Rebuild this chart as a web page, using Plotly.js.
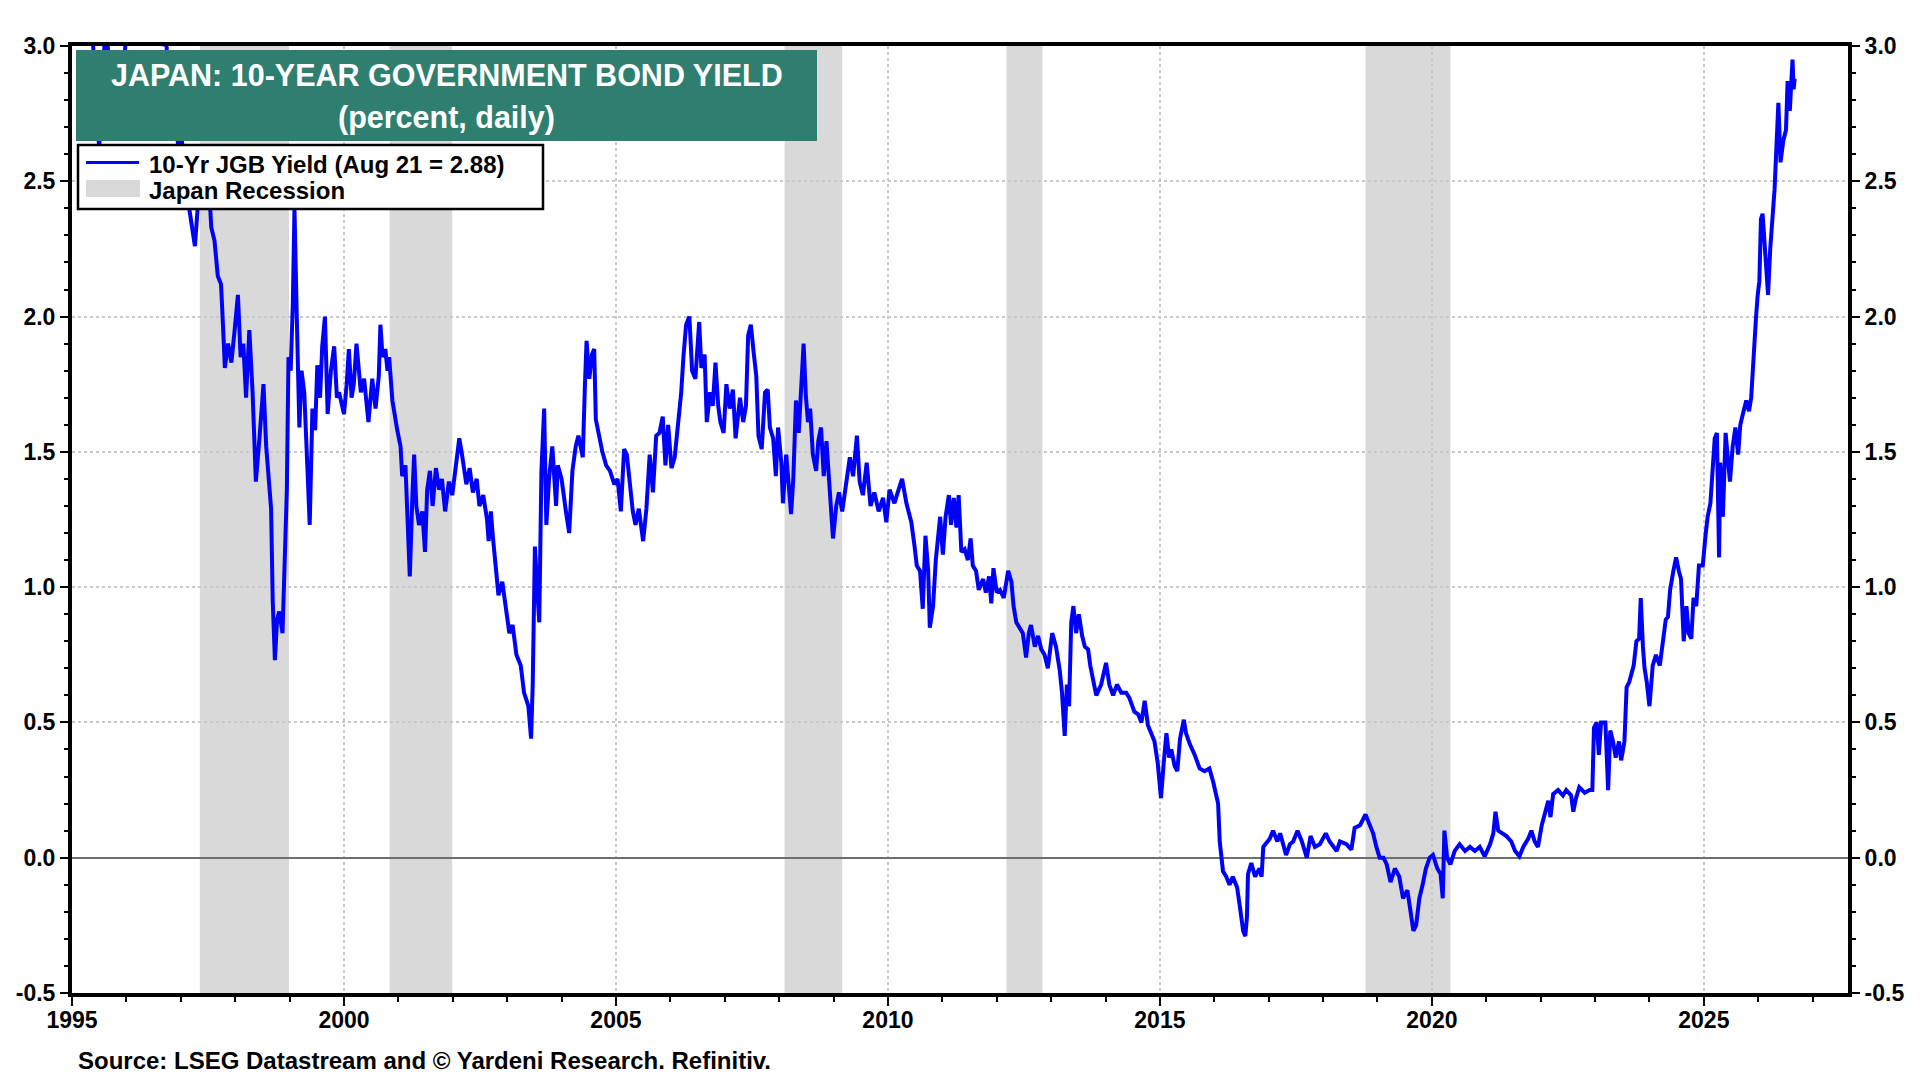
<!DOCTYPE html>
<html>
<head>
<meta charset="utf-8">
<script src="https://cdn.plot.ly/plotly-3.0.1.min.js"></script>
<style>
  html, body { margin: 0; padding: 0; background: #fff; }
  #chart { width: 1920px; height: 1080px; }
</style>
</head>
<body>
<div id="chart"></div>
<script>
// 10-yr JGB yield: decimal year / percent
var t1995 = [1995.00,1995.08,1995.17,1995.25,1995.33,1995.42,1995.50,1995.56,1995.62,1995.70,
             1995.80,1995.90,1996.00,1996.10,1996.25,1996.40,1996.50,1996.60,1996.66,1996.72,
             1996.80,1996.90,1996.96,1997.02,1997.08,1997.14,1997.20,1997.26,1997.31,1997.38,
             1997.44,1997.50,1997.56,1997.62,1997.68,1997.74,1997.78,1997.81,1997.87,1997.93,
             1997.99,1998.05,1998.10,1998.15,1998.20,1998.26,1998.32,1998.38,1998.45,1998.52,
             1998.57,1998.62,1998.66,1998.69,1998.73,1998.77,1998.81,1998.87,1998.90,1998.95,
             1998.98,1999.02,1999.06,1999.09,1999.13,1999.18,1999.22,1999.27,1999.33,1999.37,
             1999.42,1999.47,1999.51,1999.56,1999.60,1999.65,1999.70,1999.76,1999.82,1999.87,
             1999.91];
var y1995 = [4.55,4.60,4.20,3.45,3.20,2.90,2.62,2.85,3.10,2.88,
             2.95,2.80,3.05,3.20,3.30,3.25,3.40,3.20,3.00,3.05,
             2.82,2.72,2.62,2.65,2.52,2.42,2.34,2.26,2.40,2.55,
             2.63,2.55,2.33,2.28,2.15,2.12,1.95,1.81,1.90,1.83,
             1.95,2.08,1.85,1.90,1.70,1.95,1.72,1.39,1.56,1.75,
             1.52,1.40,1.29,0.95,0.73,0.88,0.91,0.83,1.06,1.36,
             1.85,1.80,2.05,2.40,2.02,1.59,1.80,1.72,1.43,1.23,
             1.66,1.58,1.82,1.70,1.89,2.00,1.64,1.80,1.89,1.70,
             1.72];

var t2000 = [2000.00,2000.05,2000.09,2000.14,2000.18,2000.23,2000.27,2000.31,2000.37,2000.41,
             2000.45,2000.52,2000.58,2000.64,2000.67,2000.71,2000.76,2000.80,2000.83,2000.89,
             2000.94,2000.98,2001.04,2001.07,2001.13,2001.18,2001.21,2001.26,2001.29,2001.33,
             2001.38,2001.44,2001.49,2001.53,2001.58,2001.63,2001.69,2001.75,2001.80,2001.86,
             2001.93,2001.99,2002.06,2002.12,2002.17,2002.25,2002.31,2002.37,2002.44,2002.49,
             2002.56,2002.63,2002.66,2002.70,2002.74,2002.78,2002.84,2002.91,2002.98,2003.04,
             2003.10,2003.17,2003.25,2003.31,2003.39,2003.44,2003.47,2003.51,2003.56,2003.59,
             2003.63,2003.68,2003.72,2003.77,2003.83,2003.90,2003.93,2004.00,2004.08,2004.14,
             2004.20,2004.26,2004.31,2004.39,2004.43,2004.46,2004.51,2004.56,2004.60,2004.63,
             2004.69,2004.75,2004.82,2004.89,2004.97];
var y2000 = [1.64,1.75,1.88,1.70,1.75,1.90,1.80,1.72,1.77,1.68,
             1.61,1.77,1.66,1.78,1.97,1.85,1.88,1.80,1.85,1.69,
             1.62,1.58,1.52,1.41,1.45,1.13,1.04,1.35,1.49,1.30,
             1.23,1.28,1.13,1.36,1.43,1.30,1.44,1.36,1.40,1.28,
             1.39,1.34,1.46,1.55,1.49,1.38,1.44,1.35,1.40,1.30,
             1.34,1.25,1.17,1.28,1.18,1.08,0.97,1.02,0.93,0.83,
             0.86,0.75,0.71,0.61,0.56,0.44,0.64,1.15,0.97,0.87,
             1.43,1.66,1.23,1.40,1.52,1.30,1.45,1.40,1.28,1.20,
             1.43,1.52,1.56,1.48,1.75,1.91,1.77,1.86,1.88,1.62,
             1.56,1.50,1.45,1.43,1.38];

var t2005 = [2005.03,2005.09,2005.15,2005.20,2005.25,2005.31,2005.36,2005.42,2005.50,2005.56,
             2005.62,2005.68,2005.74,2005.80,2005.86,2005.91,2005.96,2006.02,2006.08,2006.14,
             2006.20,2006.24,2006.29,2006.35,2006.40,2006.46,2006.53,2006.57,2006.63,2006.67,
             2006.73,2006.78,2006.83,2006.88,2006.92,2006.98,2007.03,2007.09,2007.15,2007.20,
             2007.28,2007.34,2007.39,2007.43,2007.48,2007.53,2007.58,2007.62,2007.68,2007.74,
             2007.79,2007.83,2007.89,2007.94,2007.98,2008.04,2008.07,2008.13,2008.18,2008.22,
             2008.26,2008.31,2008.36,2008.41,2008.45,2008.49,2008.53,2008.57,2008.62,2008.68,
             2008.72,2008.77,2008.82,2008.87,2008.93,2008.99,2009.05,2009.10,2009.16,2009.23,
             2009.30,2009.36,2009.43,2009.48,2009.54,2009.61,2009.68,2009.75,2009.83,2009.91,
             2009.97];
var y2005 = [1.40,1.28,1.51,1.49,1.38,1.28,1.23,1.29,1.17,1.29,
             1.49,1.35,1.56,1.57,1.63,1.45,1.60,1.44,1.48,1.60,
             1.72,1.85,1.97,2.00,1.80,1.77,1.98,1.81,1.86,1.61,
             1.72,1.67,1.83,1.67,1.61,1.57,1.75,1.66,1.73,1.55,
             1.70,1.61,1.67,1.93,1.97,1.87,1.78,1.56,1.51,1.72,
             1.73,1.59,1.55,1.41,1.59,1.46,1.31,1.49,1.35,1.27,
             1.40,1.69,1.57,1.77,1.90,1.71,1.61,1.66,1.49,1.43,
             1.54,1.59,1.41,1.54,1.38,1.18,1.30,1.35,1.28,1.39,
             1.48,1.41,1.56,1.39,1.34,1.46,1.30,1.35,1.28,1.33,
             1.24];

var t2010 = [2010.03,2010.12,2010.18,2010.26,2010.34,2010.43,2010.49,2010.53,2010.59,2010.64,
             2010.69,2010.74,2010.77,2010.83,2010.88,2010.92,2010.96,2011.01,2011.06,2011.12,
             2011.16,2011.21,2011.26,2011.30,2011.35,2011.41,2011.47,2011.52,2011.56,2011.62,
             2011.67,2011.75,2011.80,2011.86,2011.90,2011.94,2012.00,2012.06,2012.13,2012.21,
             2012.27,2012.31,2012.36,2012.42,2012.48,2012.54,2012.59,2012.63,2012.70,2012.76,
             2012.82,2012.88,2012.94,2013.02,2013.09,2013.16,2013.20,2013.25,2013.29,2013.33,
             2013.37,2013.41,2013.46,2013.51,2013.57,2013.62,2013.68,2013.72,2013.77,2013.83,
             2013.92,2014.01,2014.07,2014.14,2014.21,2014.29,2014.38,2014.44,2014.53,2014.60,
             2014.66,2014.72,2014.78,2014.84,2014.90,2014.96];
var y2010 = [1.36,1.31,1.35,1.40,1.31,1.24,1.15,1.08,1.06,0.92,
             1.19,1.06,0.85,0.93,1.10,1.19,1.26,1.12,1.26,1.34,
             1.23,1.33,1.22,1.34,1.13,1.14,1.10,1.18,1.08,1.06,
             0.99,1.03,0.98,1.04,0.94,1.07,0.98,0.99,0.96,1.06,
             1.02,0.93,0.87,0.85,0.83,0.74,0.83,0.86,0.78,0.82,
             0.77,0.75,0.70,0.83,0.78,0.69,0.61,0.45,0.64,0.56,
             0.87,0.93,0.83,0.90,0.82,0.78,0.77,0.71,0.65,0.60,
             0.64,0.72,0.64,0.60,0.64,0.61,0.61,0.59,0.54,0.53,
             0.50,0.58,0.49,0.46,0.43,0.35];

var t2015 = [2015.02,2015.07,2015.12,2015.17,2015.21,2015.27,2015.32,2015.37,2015.44,2015.48,
             2015.55,2015.64,2015.73,2015.82,2015.91,2015.98,2016.03,2016.07,2016.10,2016.13,
             2016.16,2016.22,2016.28,2016.34,2016.42,2016.47,2016.53,2016.57,2016.60,2016.62,
             2016.68,2016.75,2016.83,2016.87,2016.90,2016.96,2017.02,2017.08,2017.16,2017.21,
             2017.27,2017.32,2017.39,2017.45,2017.53,2017.61,2017.70,2017.77,2017.85,2017.94,
             2018.05,2018.12,2018.25,2018.31,2018.43,2018.52,2018.58,2018.68,2018.78,2018.86,
             2018.92,2018.98,2019.04,2019.11,2019.17,2019.24,2019.32,2019.40,2019.47,2019.55,
             2019.61,2019.66,2019.71,2019.77,2019.83,2019.89,2019.96];
var y2015 = [0.22,0.35,0.46,0.37,0.40,0.34,0.32,0.44,0.51,0.46,
             0.42,0.38,0.33,0.32,0.33,0.28,0.23,0.20,0.06,-0.01,
             -0.05,-0.07,-0.10,-0.07,-0.11,-0.18,-0.27,-0.29,-0.22,-0.06,
             -0.02,-0.07,-0.04,-0.07,0.04,0.055,0.07,0.10,0.06,0.09,
             0.04,0.01,0.05,0.06,0.10,0.06,0.00,0.08,0.04,0.05,
             0.09,0.06,0.025,0.06,0.05,0.03,0.11,0.12,0.16,0.12,
             0.09,0.04,0.00,0.00,-0.025,-0.09,-0.04,-0.07,-0.15,-0.12,
             -0.20,-0.27,-0.25,-0.15,-0.10,-0.04,0.00];

var t2020 = [2020.02,2020.10,2020.16,2020.20,2020.23,2020.28,2020.34,2020.42,2020.51,2020.61,
             2020.70,2020.79,2020.88,2020.97,2021.07,2021.13,2021.17,2021.22,2021.30,2021.37,
             2021.46,2021.53,2021.61,2021.68,2021.77,2021.83,2021.89,2021.95,2022.02,2022.08,
             2022.14,2022.18,2022.23,2022.32,2022.41,2022.47,2022.56,2022.60,2022.65,2022.71,
             2022.81,2022.90,2022.95,2022.98,2023.03,2023.07,2023.11,2023.19,2023.22,2023.24,
             2023.28,2023.33,2023.38,2023.44,2023.48,2023.54,2023.58,2023.63,2023.71,2023.76,
             2023.81,2023.84,2023.88,2023.91,2023.95,2024.00,2024.06,2024.12,2024.19,2024.23,
             2024.30,2024.34,2024.38,2024.44,2024.49,2024.54,2024.58,2024.63,2024.68,2024.72,
             2024.77,2024.81,2024.86,2024.91,2024.98,2025.03,2025.07,2025.12,2025.17,2025.20,
             2025.24,2025.28,2025.30,2025.35,2025.40,2025.44,2025.48,2025.53,2025.58,2025.63,
             2025.67,2025.73,2025.78,2025.83,2025.87,2025.90,2025.93,2025.96,2025.99,2026.02,
             2026.05,2026.08,2026.12,2026.15,2026.18,2026.22,2026.27,2026.30,2026.37,2026.41,
             2026.46,2026.51,2026.54,2026.58,2026.63,2026.65,2026.67];
var y2020 = [0.01,-0.04,-0.06,-0.15,0.10,0.00,-0.025,0.025,0.05,0.025,
             0.04,0.025,0.04,0.005,0.05,0.09,0.17,0.10,0.09,0.08,
             0.06,0.025,0.005,0.04,0.07,0.10,0.06,0.04,0.12,0.16,
             0.21,0.15,0.235,0.25,0.23,0.25,0.23,0.17,0.22,0.26,
             0.24,0.25,0.25,0.48,0.50,0.38,0.50,0.50,0.28,0.25,
             0.47,0.43,0.37,0.43,0.36,0.43,0.63,0.65,0.71,0.80,
             0.81,0.96,0.78,0.70,0.65,0.56,0.71,0.75,0.71,0.78,
             0.88,0.89,0.99,1.06,1.11,1.06,1.03,0.80,0.93,0.83,
             0.81,0.96,0.93,1.08,1.08,1.19,1.26,1.31,1.44,1.55,
             1.57,1.11,1.46,1.26,1.57,1.49,1.39,1.52,1.59,1.49,
             1.60,1.65,1.69,1.65,1.70,1.80,1.92,2.00,2.08,2.13,
             2.36,2.38,2.26,2.18,2.08,2.25,2.41,2.47,2.79,2.57,
             2.65,2.69,2.87,2.76,2.95,2.84,2.88];

// Japan recessions (decimal years)
var recessionStart = [1997.35, 2000.84, 2008.10, 2012.18, 2018.78];
var recessionEnd   = [1998.99, 2001.99, 2009.16, 2012.84, 2020.34];

var xTickVals = [1995, 2000, 2005, 2010, 2015, 2020, 2025];
var yTickVals = [-0.5, 0, 0.5, 1, 1.5, 2, 2.5, 3];
var yTickText = ['-0.5', '0.0', '0.5', '1.0', '1.5', '2.0', '2.5', '3.0'];

var seriesName = '10-Yr JGB Yield (Aug 21 = 2.88)';
var recessionName = 'Japan Recession';

var FONT = 'Arial, "Liberation Sans", sans-serif';
var BLUE = '#0000ff';
var GREY = '#d9d9d9';

var years = [].concat(t1995, t2000, t2005, t2010, t2015, t2020);
var yields = [].concat(y1995, y2000, y2005, y2010, y2015, y2020);

// plot area in px: x 72..1848, y 46..993
function px(x) { return (x - 72) / 1776; }
function py(y) { return 1 - (y - 46) / 947; }

var jgb = {
  x: years,
  y: yields,
  type: 'scatter',
  mode: 'lines',
  name: seriesName,
  line: {color: BLUE, width: 4},
  showlegend: false
};

// empty trace, just to carry the right hand axis
var rightAxis = {
  x: [null],
  y: [null],
  yaxis: 'y2',
  type: 'scatter',
  mode: 'lines',
  showlegend: false,
  hoverinfo: 'skip'
};

var shapes = recessionStart.map(function(s, i) {
  return {
    type: 'rect', xref: 'x', yref: 'paper',
    x0: s, x1: recessionEnd[i], y0: 0, y1: 1,
    fillcolor: GREY, line: {width: 0}, layer: 'below'
  };
});

// title box
shapes.push({
  type: 'rect', xref: 'paper', yref: 'paper',
  x0: px(76), x1: px(817), y0: py(141), y1: py(50),
  fillcolor: '#2f7f70', line: {width: 0}, layer: 'above'
});
// legend box and its keys
shapes.push({
  type: 'rect', xref: 'paper', yref: 'paper',
  x0: px(78), x1: px(543), y0: py(209), y1: py(145),
  fillcolor: '#ffffff', line: {color: '#000000', width: 2.5}, layer: 'above'
});
shapes.push({
  type: 'line', xref: 'paper', yref: 'paper',
  x0: px(86), x1: px(139), y0: py(162.5), y1: py(162.5),
  line: {color: BLUE, width: 3}, layer: 'above'
});
shapes.push({
  type: 'rect', xref: 'paper', yref: 'paper',
  x0: px(86), x1: px(140), y0: py(197), y1: py(180),
  fillcolor: GREY, line: {width: 0}, layer: 'above'
});

var tickFont = {family: FONT, size: 23, color: '#000', weight: 700};
var legendFont = {family: FONT, size: 24, color: '#000', weight: 700};

var yAxisBase = {
  range: [-0.5, 3.0],
  tickvals: yTickVals,
  ticktext: yTickText,
  ticks: 'outside',
  ticklen: 8,
  tickwidth: 2,
  tickcolor: '#000',
  tickfont: tickFont,
  showline: true,
  linecolor: '#000',
  linewidth: 4,
  fixedrange: true,
  minor: {dtick: 0.1, ticks: 'outside', ticklen: 4, tickwidth: 2, tickcolor: '#000', showgrid: false}
};

var layout = {
  width: 1920,
  height: 1080,
  margin: {l: 72, r: 72, t: 46, b: 87},
  paper_bgcolor: '#fff',
  plot_bgcolor: '#fff',
  showlegend: false,
  xaxis: {
    range: [1995, 2027.65],
    tickvals: xTickVals,
    ticks: 'outside',
    ticklen: 9,
    tickwidth: 2,
    tickcolor: '#000',
    tickfont: tickFont,
    ticklabelstandoff: -6,
    showline: true,
    mirror: true,
    linecolor: '#000',
    linewidth: 4,
    showgrid: true,
    gridcolor: '#c8c8c8',
    gridwidth: 2,
    griddash: 'dot',
    zeroline: false,
    fixedrange: true,
    minor: {dtick: 1, ticks: 'outside', ticklen: 5, tickwidth: 2, tickcolor: '#000', showgrid: false}
  },
  yaxis: Object.assign({}, yAxisBase, {
    side: 'left',
    showgrid: true,
    gridcolor: '#c8c8c8',
    gridwidth: 2,
    griddash: 'dot',
    zeroline: true,
    zerolinecolor: '#6e6e6e',
    zerolinewidth: 2
  }),
  yaxis2: Object.assign({}, yAxisBase, {
    side: 'right',
    overlaying: 'y',
    showgrid: false,
    zeroline: false
  }),
  shapes: shapes,
  annotations: [
    {
      xref: 'paper', yref: 'paper',
      x: px(446.5), y: py(75),
      xanchor: 'center', yanchor: 'middle',
      text: 'JAPAN: 10-YEAR GOVERNMENT BOND YIELD',
      showarrow: false,
      font: {family: FONT, size: 30.5, color: '#ffffff', weight: 700}
    },
    {
      xref: 'paper', yref: 'paper',
      x: px(446.5), y: py(117),
      xanchor: 'center', yanchor: 'middle',
      text: '(percent, daily)',
      showarrow: false,
      font: {family: FONT, size: 30.5, color: '#ffffff', weight: 700}
    },
    {
      xref: 'paper', yref: 'paper',
      x: px(147), y: py(164),
      xanchor: 'left', yanchor: 'middle',
      text: seriesName,
      showarrow: false,
      font: legendFont
    },
    {
      xref: 'paper', yref: 'paper',
      x: px(147), y: py(190),
      xanchor: 'left', yanchor: 'middle',
      text: recessionName,
      showarrow: false,
      font: legendFont
    },
    {
      xref: 'paper', yref: 'paper',
      x: px(76), y: py(1060),
      xanchor: 'left', yanchor: 'middle',
      text: 'Source: LSEG Datastream and © Yardeni Research. Refinitiv.',
      showarrow: false,
      font: {family: FONT, size: 24, color: '#000', weight: 700}
    }
  ]
};

Plotly.newPlot('chart', [jgb, rightAxis], layout, {displayModeBar: false, staticPlot: true});
</script>
</body>
</html>
